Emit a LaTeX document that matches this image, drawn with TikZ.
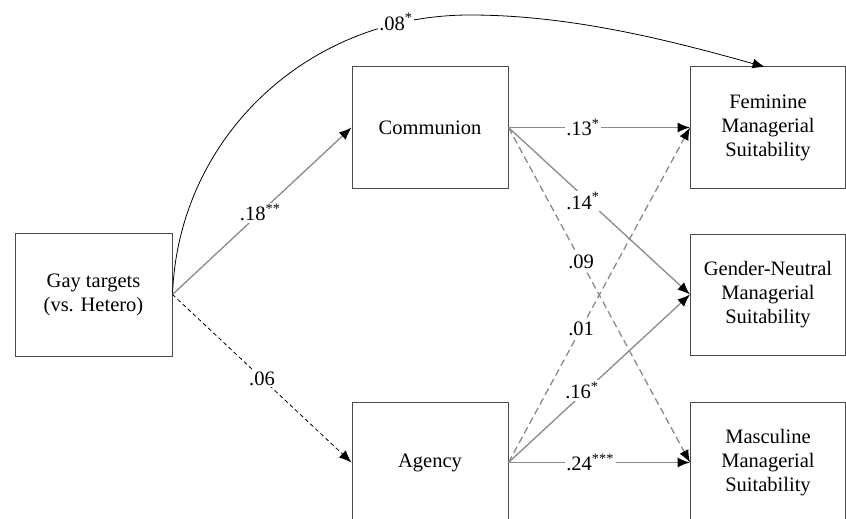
\documentclass[tikz,border=0pt]{standalone}
\usepackage{fontspec}
\setmainfont{Liberation Serif}
\usetikzlibrary{arrows.meta}
\definecolor{pathgray}{HTML}{8A8A8A}
\definecolor{boxgray}{HTML}{4A4A4A}
\tikzset{
  varbox/.style={draw=boxgray, line width=1pt, inner sep=0pt, align=center,
    minimum width=156pt, minimum height=121pt,
    font=\fontsize{20.5}{24}\selectfont},
  tipblack/.style={-{Latex[length=12.5pt,width=10pt,color=black]}},
  sigpath/.style={tipblack, draw=pathgray, line width=1.3pt},
  nspath/.style={tipblack, draw=pathgray, line width=1.3pt, dash pattern=on 7pt off 4pt},
  blackdash/.style={tipblack, draw=black, line width=0.8pt, dash pattern=on 4pt off 3pt},
  blackthin/.style={tipblack, draw=black, line width=0.8pt},
  coef/.style={fill=white, inner sep=1.5pt, font=\fontsize{20.5}{24}\selectfont}
}
\begin{document}
\begin{tikzpicture}[x=1pt, y=-1pt]
\useasboundingbox (0,0) rectangle (846,519);
\clip (0,0) rectangle (846,519);

\node[varbox, minimum width=157pt, minimum height=123pt] (g) at (93.5,294.5) {Gay targets\\(vs. Hetero)};
\node[varbox] (c) at (430,127.5) {Communion};
\node[varbox] (a) at (430,462.5) {Agency};
\node[varbox, minimum width=155pt] (fem) at (768,127.5) {Feminine\\Managerial\\Suitability};
\node[varbox, minimum width=155pt] (gn) at (768,294.5) {Gender-Neutral\\Managerial\\Suitability};
\node[varbox, minimum width=155pt] (masc) at (768,462.5) {Masculine\\Managerial\\Suitability};
\coordinate (femtop) at (765,67);

% direct effect curve
\draw[blackthin] (g.east) .. controls (178,140) and (305,15) .. (470,15)
  .. controls (570,15) and (669,40) .. (femtop);
\node[coef] (l08) at (396,22) {.08\textsuperscript{*}};

% a paths
\draw[sigpath] (g.east) -- node[coef, pos=0.49] {.18\textsuperscript{**}} (c.west);
\draw[blackdash] (g.east) -- node[coef, pos=0.5] {.06} (a.west);

% b paths
\draw[sigpath] (c.east) -- node[coef, pos=0.41] {.13\textsuperscript{*}} (fem.west);
\draw[nspath] (c.east) -- (masc.west);
\draw[nspath] (a.east) -- (fem.west);
\draw[sigpath] (c.east) -- node[coef, pos=0.41, yshift=-5pt] {.14\textsuperscript{*}} (gn.west);
\draw[sigpath] (a.east) -- node[coef, pos=0.405, yshift=4pt] {.16\textsuperscript{*}} (gn.west);
\draw[sigpath] (a.east) -- node[coef, pos=0.45] {.24\textsuperscript{***}} (masc.west);
\path (c.east) -- node[coef, pos=0.40] {.09} (masc.west);
\path (a.east) -- node[coef, pos=0.40] {.01} (fem.west);
\end{tikzpicture}
\end{document}
